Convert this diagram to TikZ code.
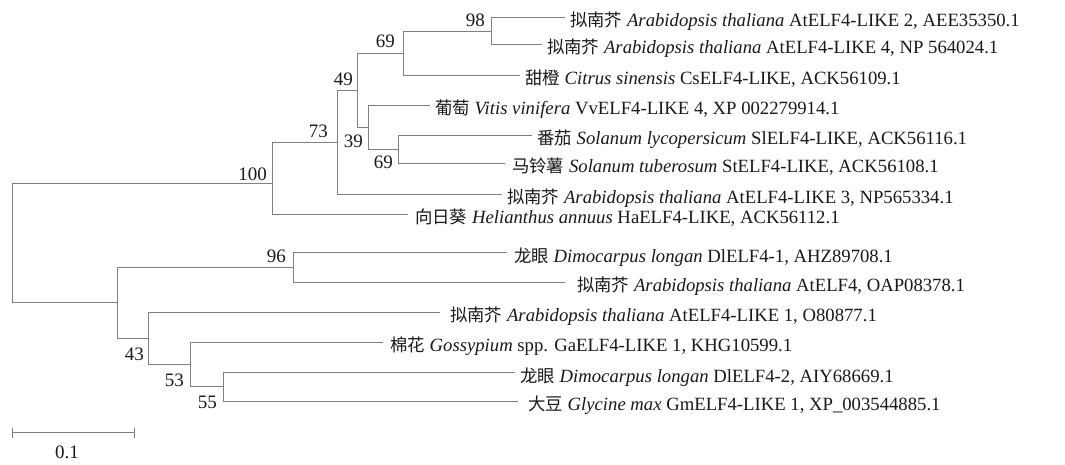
\documentclass[tikz,border=0pt]{standalone}
\usepackage{fontspec}
\setmainfont{Liberation Serif}
\newfontfamily\cjk{Noto Sans CJK SC}[Scale=0.93]
\begin{document}
\begin{tikzpicture}[x=1pt,y=-1pt,
  branch/.style={draw=black!50, line width=1pt},
  leaf/.style={anchor=base west, inner sep=0pt, font=\fontsize{18.7}{22}\selectfont, text=black!90},
  bs/.style={anchor=base east, inner sep=0pt, font=\fontsize{19}{22}\selectfont, text=black!90}]
\useasboundingbox (0,0) rectangle (1065,464);
% internal nodes
\coordinate (r) at (12,243);
\coordinate (n100) at (272,183);
\coordinate (n73) at (337,142);
\coordinate (n49) at (357,90);
\coordinate (n69a) at (403,53);
\coordinate (n98) at (491,31);
\coordinate (n39) at (368,127);
\coordinate (n69b) at (398,149);
\coordinate (nB) at (117,302.7);
\coordinate (n96) at (293,267.7);
\coordinate (n43) at (148,338.3);
\coordinate (n53) at (190,364);
\coordinate (n55) at (223,386);
% leaf tips
\coordinate (t1) at (565,17);
\coordinate (t2) at (542,44);
\coordinate (t3) at (520,75);
\coordinate (t4) at (430,105);
\coordinate (t5) at (532,135);
\coordinate (t6) at (505,163);
\coordinate (t7) at (502,194);
\coordinate (t8) at (408,214);
\coordinate (t9) at (507,252.7);
\coordinate (t10) at (565,282.3);
\coordinate (t11) at (440,312.3);
\coordinate (t12) at (383,342.3);
\coordinate (t13) at (515,372.7);
\coordinate (t14) at (518,401.3);
% leaf labels
\node[leaf] (L1) at (570,26.5) {{\cjk 拟南芥} \textit{Arabidopsis thaliana} AtELF4-LIKE 2, AEE35350.1};
\node[leaf] (L2) at (547,53.5) {{\cjk 拟南芥} \textit{Arabidopsis thaliana} AtELF4-LIKE 4, NP 564024.1};
\node[leaf] (L3) at (525,84.5) {{\cjk 甜橙} \textit{Citrus sinensis} CsELF4-LIKE, ACK56109.1};
\node[leaf] (L4) at (435,114.5) {{\cjk 葡萄} \textit{Vitis vinifera} VvELF4-LIKE 4, XP 002279914.1};
\node[leaf] (L5) at (537,144.5) {{\cjk 番茄} \textit{Solanum lycopersicum} SlELF4-LIKE, ACK56116.1};
\node[leaf] (L6) at (512,172.5) {{\cjk 马铃薯} \textit{Solanum tuberosum} StELF4-LIKE, ACK56108.1};
\node[leaf] (L7) at (507,203.5) {{\cjk 拟南芥} \textit{Arabidopsis thaliana} AtELF4-LIKE 3, NP565334.1};
\node[leaf] (L8) at (415,223.5) {{\cjk 向日葵} \textit{Helianthus annuus} HaELF4-LIKE, ACK56112.1};
\node[leaf] (L9) at (514,262.2) {{\cjk 龙眼} \textit{Dimocarpus longan} DlELF4-1, AHZ89708.1};
\node[leaf] (L10) at (577,291.8) {{\cjk 拟南芥} \textit{Arabidopsis thaliana} AtELF4, OAP08378.1};
\node[leaf] (L11) at (450,321.8) {{\cjk 拟南芥} \textit{Arabidopsis thaliana} AtELF4-LIKE 1, O80877.1};
\node[leaf] (L12) at (390,351.8) {{\cjk 棉花} \textit{Gossypium} spp. GaELF4-LIKE 1, KHG10599.1};
\node[leaf] (L13) at (520,382.2) {{\cjk 龙眼} \textit{Dimocarpus longan} DlELF4-2, AIY68669.1};
\node[leaf] (L14) at (528,410.8) {{\cjk 大豆} \textit{Glycine max} GmELF4-LIKE 1, XP\_003544885.1};
% branches
\draw[branch] (r) |- (n100);
\draw[branch] (r) |- (nB);
\draw[branch] (n100) |- (n73);
\draw[branch] (n100) |- (t8);
\draw[branch] (n73) |- (n49);
\draw[branch] (n73) |- (t7);
\draw[branch] (n49) |- (n69a);
\draw[branch] (n49) |- (n39);
\draw[branch] (n69a) |- (n98);
\draw[branch] (n69a) |- (t3);
\draw[branch] (n98) |- (t1);
\draw[branch] (n98) |- (t2);
\draw[branch] (n39) |- (t4);
\draw[branch] (n39) |- (n69b);
\draw[branch] (n69b) |- (t5);
\draw[branch] (n69b) |- (t6);
\draw[branch] (nB) |- (n96);
\draw[branch] (nB) |- (n43);
\draw[branch] (n96) |- (t9);
\draw[branch] (n96) |- (t10);
\draw[branch] (n43) |- (t11);
\draw[branch] (n43) |- (n53);
\draw[branch] (n53) |- (t12);
\draw[branch] (n53) |- (n55);
\draw[branch] (n55) |- (t13);
\draw[branch] (n55) |- (t14);
% bootstrap values
\node[bs] (b100) at (267,180) {100};
\node[bs] (b73) at (328,137) {73};
\node[bs] (b49) at (353,85) {49};
\node[bs] (b69a) at (395,47) {69};
\node[bs] (b98) at (485,26) {98};
\node[bs] (b39) at (363,147) {39};
\node[bs] (b69b) at (393,168) {69};
\node[bs] (b96) at (286,262) {96};
\node[bs] (b43) at (144,360) {43};
\node[bs] (b53) at (184,386) {53};
\node[bs] (b55) at (217,408) {55};
% scale bar
\coordinate (s1) at (12,432.7);
\coordinate (s2) at (134,432.7);
\draw[branch] (s1) -- (s2);
\draw[branch] ([yshift=5pt]s1) -- ([yshift=-5pt]s1);
\draw[branch] ([yshift=5pt]s2) -- ([yshift=-5pt]s2);
\node[anchor=base, inner sep=0pt, font=\fontsize{19}{22}\selectfont, text=black!90] (sl) at (67,458) {0.1};
\end{tikzpicture}
\end{document}
